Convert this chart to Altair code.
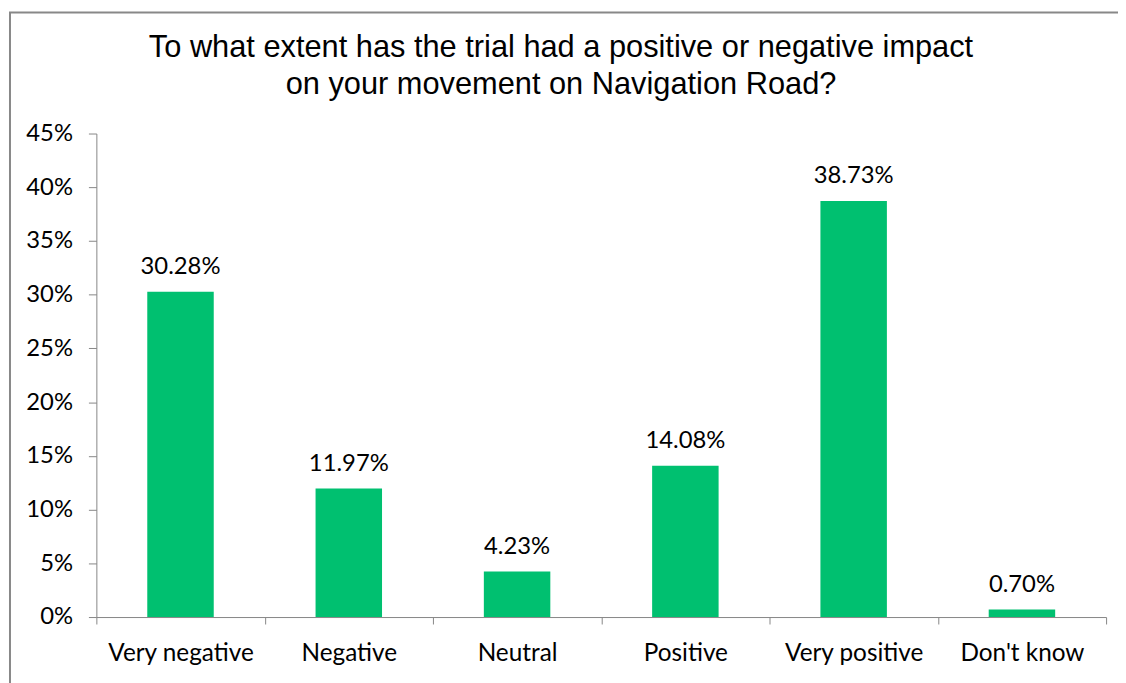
import altair as alt
import pandas as pd

categories = ["Very negative", "Negative", "Neutral", "Positive", "Very positive", "Don't know"]
values = [30.28, 11.97, 4.23, 14.08, 38.73, 0.70]
labels = ["30.28%", "11.97%", "4.23%", "14.08%", "38.73%", "0.70%"]
y_ticks = [0, 0.05, 0.10, 0.15, 0.20, 0.25, 0.30, 0.35, 0.40, 0.45]
title_line1 = "To what extent has the trial had a positive or negative impact"
title_line2 = "on your movement on Navigation Road?"

df = pd.DataFrame({"category": categories,
                   "value": [v / 100 for v in values],
                   "label": labels})

W, H = 1017, 487
GRAY = "#868686"
LABEL_FONT = "Lato"
TITLE_FONT = "Liberation Sans"

x_enc = alt.X("category:N", sort=categories,
              scale=alt.Scale(paddingInner=0, paddingOuter=0),
              axis=alt.Axis(title=None, labelAngle=0, tickBand="extent",
                            domainColor=GRAY, tickColor=GRAY, tickSize=7,
                            labelFont=LABEL_FONT, labelFontSize=24.5,
                            labelColor="#000000", labelPadding=37,
                            labelBaseline="alphabetic"))
y_enc = alt.Y("value:Q",
              scale=alt.Scale(domain=[0, 0.45], nice=False),
              axis=alt.Axis(title=None, values=y_ticks, format=".0%",
                            grid=False, domainColor=GRAY, tickColor=GRAY,
                            tickSize=8, labelFont=LABEL_FONT, labelFontSize=24,
                            labelColor="#000000", labelPadding=16))

bars = alt.Chart(df).mark_bar(color="#00C070",
                              width=alt.RelativeBandSize(0.395)).encode(x=x_enc, y=y_enc)
texts = alt.Chart(df).mark_text(dy=-18, baseline="alphabetic", font=LABEL_FONT,
                                fontSize=24, color="#000000").encode(
    x=alt.X("category:N", sort=categories), y="value:Q", text="label:N")

one = pd.DataFrame({"a": [0]})
border = alt.Chart(one).mark_rect(
    filled=False, stroke="#888888", strokeWidth=2).encode(
    x=alt.value(-87), x2=alt.value(W + 300),
    y=alt.value(-122), y2=alt.value(H + 300))

title1 = alt.Chart(one).mark_text(
    text=title_line1, font=TITLE_FONT, fontSize=31, color="#000000",
    align="center", baseline="alphabetic").encode(
    x=alt.value(468), y=alt.value(-77))
title2 = alt.Chart(one).mark_text(
    text=title_line2, font=TITLE_FONT, fontSize=31, color="#000000",
    align="center", baseline="alphabetic").encode(
    x=alt.value(468), y=alt.value(-40))

chart = alt.layer(border, title1, title2, bars, texts).properties(
    width=W, height=H,
    autosize=alt.AutoSizeParams(type="none"),
    padding={"left": 89, "top": 124, "right": 12, "bottom": 64},
).configure_view(strokeWidth=0)

chart.save("out.html", embed_options={"renderer": "svg", "actions": False})
